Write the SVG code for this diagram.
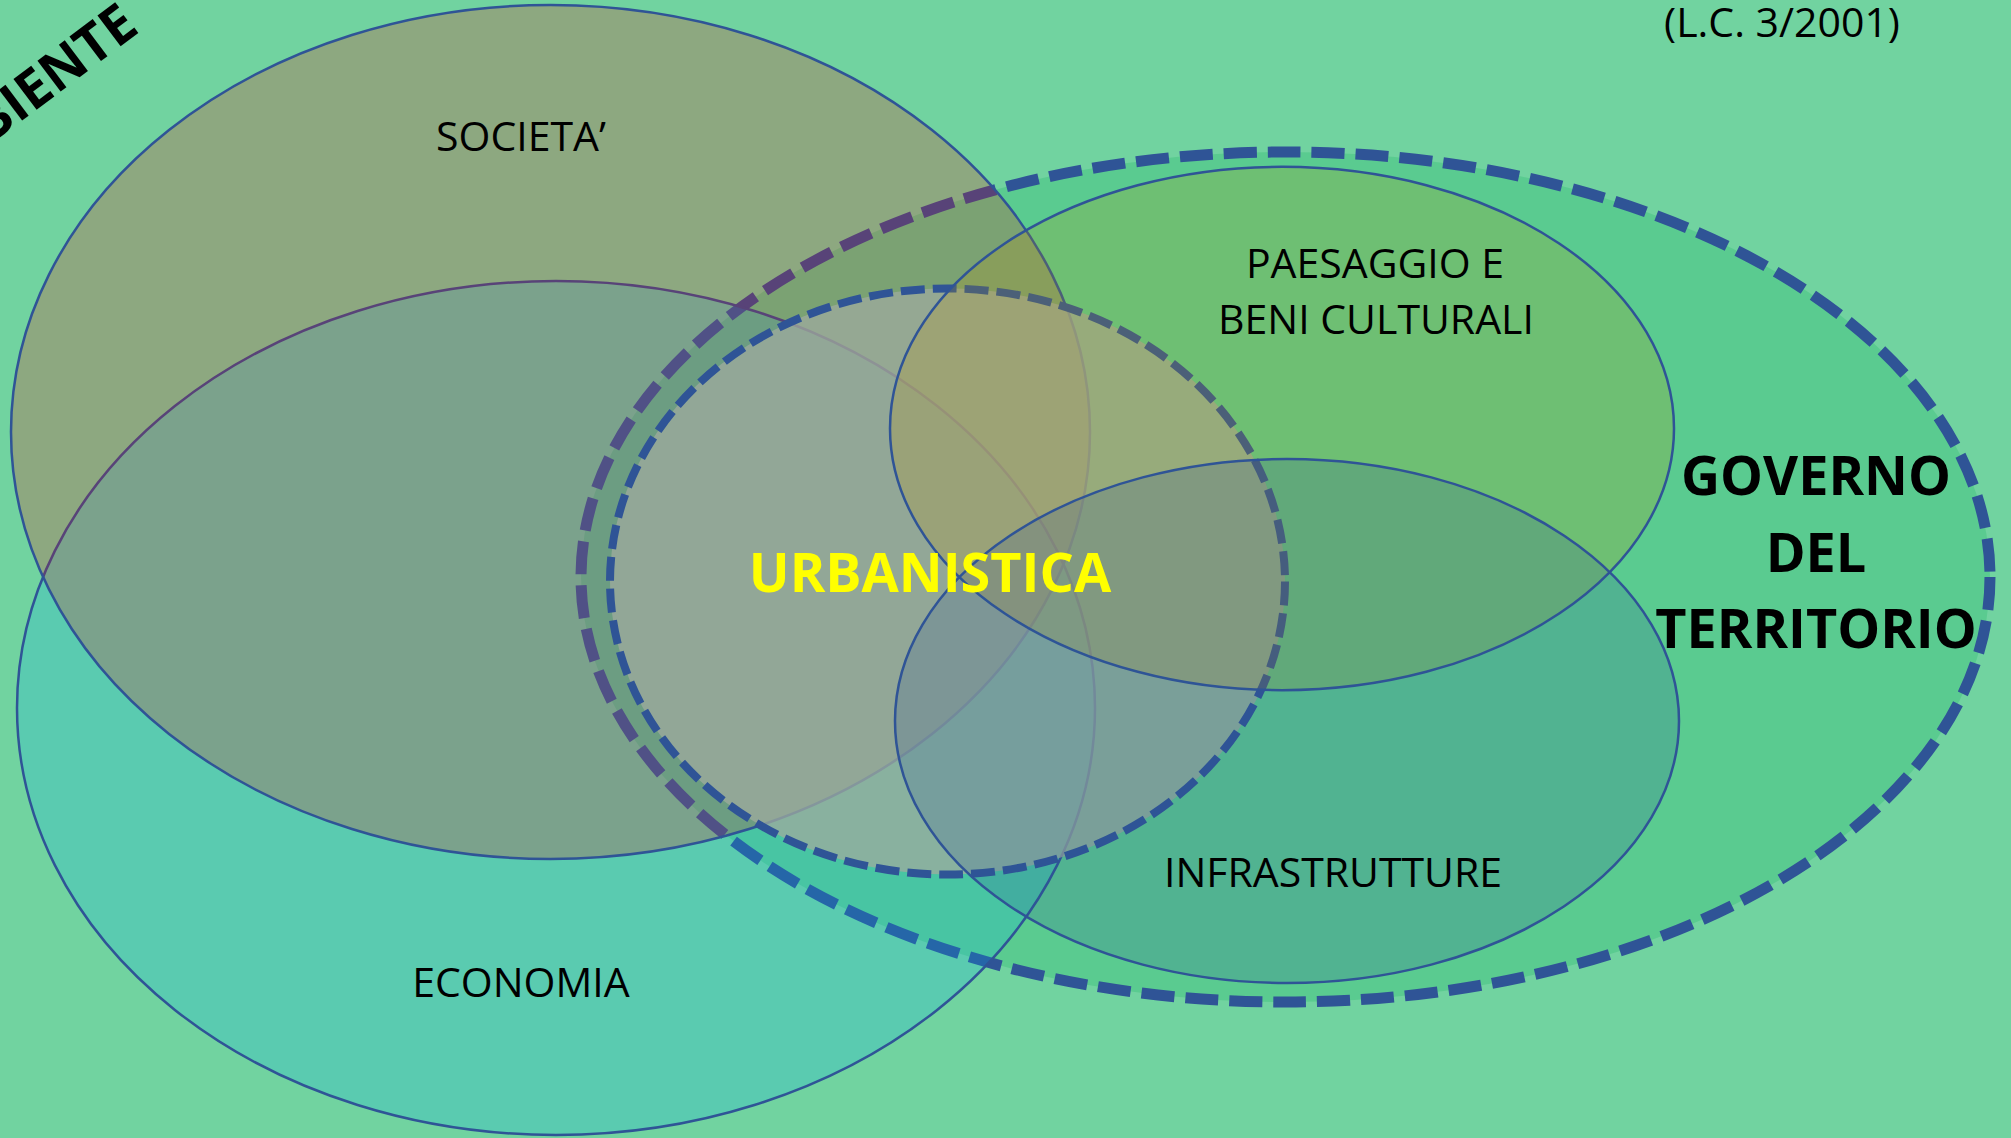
<svg xmlns="http://www.w3.org/2000/svg" width="2011" height="1138" viewBox="0 0 2011 1138">
<style>
.solid{stroke:#2F5496;stroke-width:2.5}
.lbl{font-family:"Open Sans","Liberation Sans",sans-serif;font-size:41px;fill:#000;text-anchor:middle}
.big{font-family:"Open Sans","Liberation Sans",sans-serif;font-weight:bold;font-size:54px;fill:#000;text-anchor:middle}
</style>
<g id="ambiente">
<rect x="0" y="0" width="2011" height="1138" fill="#71D3A0"/>
<text font-family="'Open Sans','Liberation Sans',sans-serif" font-weight="bold" font-size="54" fill="#000" text-anchor="end" transform="translate(141,31) rotate(-37)">AMBIENTE</text>
<text class="lbl" x="1782" y="37">(L.C. 3/2001)</text>
</g>
<g id="governo">
<ellipse cx="1285.5" cy="577" rx="704.5" ry="425" fill="#00B050" fill-opacity="0.2" stroke="#2F5496" stroke-width="11" stroke-dasharray="33 11"/>
<text class="big" x="1816" y="495">GOVERNO</text>
<text class="big" x="1816" y="572">DEL</text>
<text class="big" x="1816" y="648">TERRITORIO</text>
</g>
<g id="economia">
<ellipse class="solid" cx="556" cy="708" rx="539" ry="427" fill="#00B0F0" fill-opacity="0.2"/>
<text class="lbl" x="521" y="997">ECONOMIA</text>
</g>
<g id="societa">
<ellipse class="solid" cx="550.5" cy="432" rx="539.5" ry="427" fill="#FF0000" fill-opacity="0.2"/>
<text class="lbl" x="521" y="151">SOCIETA’</text>
</g>
<g id="urbanistica">
<ellipse cx="947.5" cy="581.5" rx="337.5" ry="293" fill="rgb(158,171,158)" fill-opacity="0.77" stroke="#2F5496" stroke-width="8" stroke-dasharray="24 8"/>
</g>
<g id="paesaggio">
<ellipse class="solid" cx="1282" cy="428.5" rx="392" ry="261.7" fill="rgb(190,145,0)" fill-opacity="0.2"/>
<text class="lbl" x="1375" y="278">PAESAGGIO E</text>
<text class="lbl" x="1376" y="334">BENI CULTURALI</text>
</g>
<g id="infrastrutture">
<ellipse class="solid" cx="1287" cy="721" rx="392" ry="262" fill="#2F5496" fill-opacity="0.2"/>
<text class="lbl" x="1333" y="887">INFRASTRUTTURE</text>
</g>
<g id="urbanistica-label">
<text font-family="'Open Sans','Liberation Sans',sans-serif" font-weight="bold" font-size="54" fill="#FFFF00" text-anchor="middle" x="930" y="592">URBANISTICA</text>
</g>
</svg>
